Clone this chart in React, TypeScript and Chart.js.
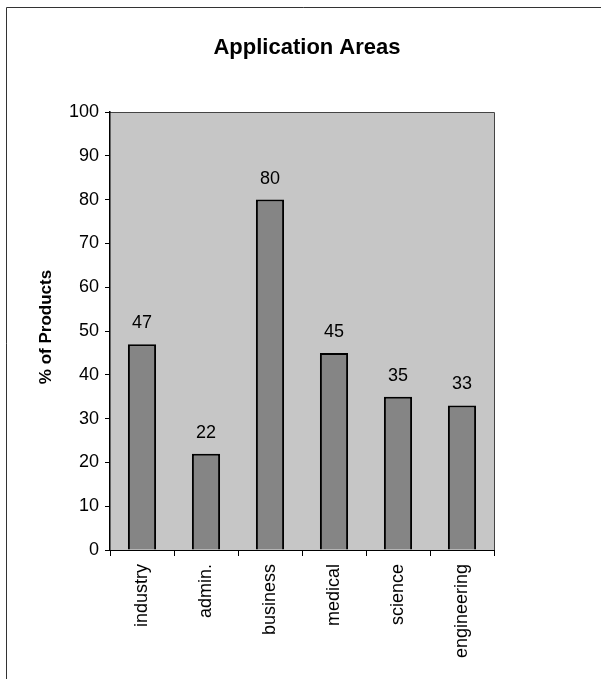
import React, { useEffect, useRef } from "react";
import { Chart, registerables } from "chart.js";

Chart.register(...registerables);

const categories = ["industry", "admin.", "business", "medical", "science", "engineering"];
const percentProducts = [47, 22, 80, 45, 35, 33];
const yTicks = [0, 10, 20, 30, 40, 50, 60, 70, 80, 90, 100];

const chartTitle = "Application Areas";
const yAxisTitle = "% of Products";

const FONT = "'Liberation Sans', Arial, Helvetica, sans-serif";

// Frame, plot background, titles and value labels
const decorations = {
  id: "decorations",
  beforeDraw(chart: any) {
    const { ctx, chartArea } = chart;
    ctx.save();
    ctx.fillStyle = "#ffffff";
    ctx.fillRect(0, 0, chart.width, chart.height);
    // outer frame
    ctx.strokeStyle = "#333333";
    ctx.lineWidth = 1;
    ctx.beginPath();
    ctx.moveTo(6.5, chart.height);
    ctx.lineTo(6.5, 7.5);
    ctx.lineTo(chart.width, 7.5);
    ctx.stroke();
    // plot area fill
    ctx.fillStyle = "#c6c6c6";
    ctx.fillRect(chartArea.left, chartArea.top, chartArea.right - chartArea.left, chartArea.bottom - chartArea.top);
    ctx.strokeStyle = "#444444";
    ctx.lineWidth = 1;
    ctx.beginPath();
    ctx.moveTo(chartArea.left, chartArea.top + 0.5);
    ctx.lineTo(chartArea.right + 0.5, chartArea.top + 0.5);
    ctx.lineTo(chartArea.right + 0.5, chartArea.bottom);
    ctx.stroke();
    // chart title
    ctx.fillStyle = "#000000";
    ctx.font = `bold 22px ${FONT}`;
    ctx.textAlign = "center";
    ctx.textBaseline = "alphabetic";
    ctx.fillText(chartTitle, 307, 54);
    // y axis title
    ctx.translate(51, 327);
    ctx.rotate(-Math.PI / 2);
    ctx.font = `bold 17px ${FONT}`;
    ctx.fillText(yAxisTitle, 0, 0);
    ctx.restore();
  },
  afterDatasetsDraw(chart: any) {
    const { ctx } = chart;
    const meta = chart.getDatasetMeta(0);
    ctx.save();
    ctx.fillStyle = "#000000";
    ctx.font = `18px ${FONT}`;
    ctx.textAlign = "center";
    ctx.textBaseline = "alphabetic";
    meta.data.forEach((bar: any, i: number) => {
      ctx.fillText(String(percentProducts[i]), bar.x, bar.y - 16);
    });
    ctx.restore();
  },
};

export default function App() {
  const canvasRef = useRef<HTMLCanvasElement | null>(null);

  useEffect(() => {
    if (!canvasRef.current) return;
    const chart = new Chart(canvasRef.current, {
      type: "bar",
      data: {
        labels: categories,
        datasets: [
          {
            data: percentProducts,
            backgroundColor: "#858585",
            borderColor: "#000000",
            borderWidth: 2,
            borderSkipped: "bottom",
            categoryPercentage: 1,
            barPercentage: 0.44,
          },
        ],
      },
      options: {
        animation: false,
        responsive: false,
        devicePixelRatio: 1,
        layout: { padding: { top: 112, right: 107, left: 0, bottom: 0 } },
        plugins: {
          legend: { display: false },
          title: { display: false },
          tooltip: { enabled: false },
        },
        scales: {
          x: {
            afterFit(scale: any) {
              scale.height = 129;
            },
            grid: {
              offset: true,
              drawOnChartArea: false,
              drawTicks: true,
              tickLength: 6,
              color: "#000000",
            },
            border: { display: true, color: "#000000", width: 1 },
            ticks: {
              color: "#000000",
              font: { family: FONT, size: 18 },
              minRotation: 90,
              maxRotation: 90,
              padding: 8,
              autoSkip: false,
            },
          },
          y: {
            min: 0,
            max: 100,
            afterFit(scale: any) {
              scale.width = 110;
            },
            afterBuildTicks(scale: any) {
              scale.ticks = yTicks.map((v) => ({ value: v }));
            },
            grid: {
              drawOnChartArea: false,
              drawTicks: true,
              tickLength: 5,
              color: "#000000",
            },
            border: { display: true, color: "#000000", width: 1.5 },
            ticks: {
              color: "#000000",
              font: { family: FONT, size: 18 },
              padding: 6,
            },
          },
        },
      },
      plugins: [decorations],
    });
    return () => chart.destroy();
  }, []);

  return (
    <div style={{ position: "absolute", left: 0, top: 0, width: 601, height: 679 }}>
      <canvas ref={canvasRef} width={601} height={679} style={{ width: 601, height: 679, display: "block" }} />
    </div>
  );
}
